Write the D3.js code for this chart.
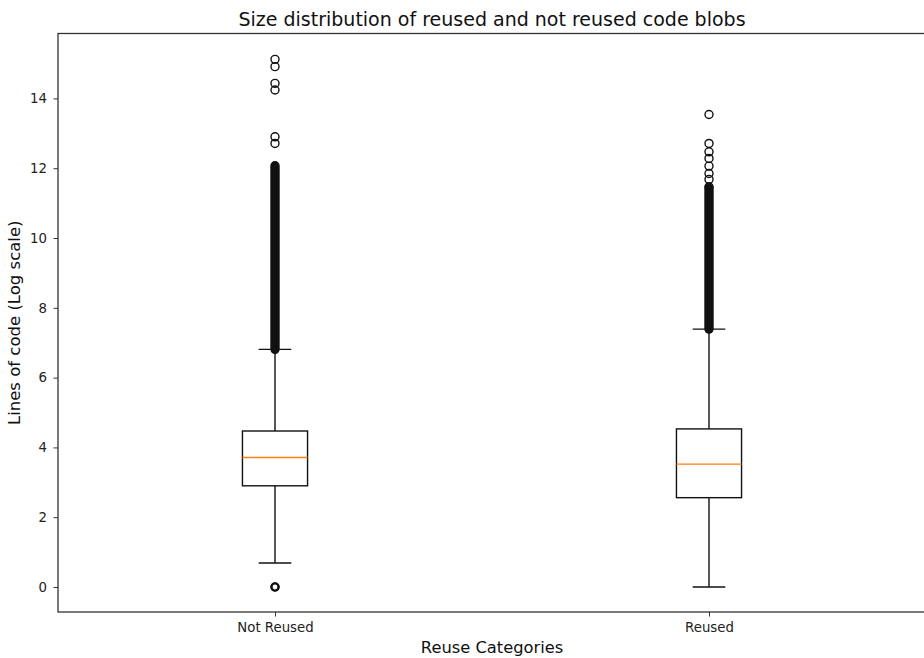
<!DOCTYPE html>
<html>
<head>
<meta charset="utf-8">
<script src="https://cdn.jsdelivr.net/npm/d3@7"></script>
<style>
  html, body { margin: 0; padding: 0; background: #fff; }
  svg { display: block; font-family: "DejaVu Sans", sans-serif; }
</style>
</head>
<body>
<svg id="chart" width="924" height="658"></svg>
<script>
// ---- Data ----
const categories = ["Not Reused", "Reused"];
const q1Values = [2.90, 2.56];
const medianValues = [3.71, 3.52];
const q3Values = [4.47, 4.53];
const whiskerLow = [0.69, 0.0];
const whiskerHigh = [6.81, 7.39];
// individually visible outliers
const outliersNotReused = [0, 12.71, 12.90, 14.24, 14.43, 14.91, 15.12];
const outliersReused = [11.47, 11.68, 11.85, 12.06, 12.28, 12.47, 12.71, 13.54];
// ranges where outlier markers overlap into a solid column
const denseOutlierRanges = [[6.81, 12.07], [7.39, 11.43]];
const yTicks = [0, 2, 4, 6, 8, 10, 12, 14];
const yDomain = [-0.716, 15.86];
const titleText = "Size distribution of reused and not reused code blobs";
const xLabelText = "Reuse Categories";
const yLabelText = "Lines of code (Log scale)";

// ---- Layout ----
(function () {
const svg = d3.select("#chart");
const mLeft = 58, mRight = 926, mTop = 33.5, mBottom = 612;
const x = d3.scaleLinear().domain([0.5, 2.5]).range([mLeft, mRight]);
const y = d3.scaleLinear().domain(yDomain).range([mBottom, mTop]);
const boxW = x(1.15) - x(1);
const capW = boxW / 2;
const ink = "#111";
const lw = 1.4;

const g = svg.append("g");

categories.forEach((c, i) => {
  const cx = x(i + 1);
  const gb = g.append("g");
  gb.append("line").attr("x1", cx).attr("x2", cx)
    .attr("y1", y(q1Values[i])).attr("y2", y(whiskerLow[i]))
    .attr("stroke", ink).attr("stroke-width", lw);
  gb.append("line").attr("x1", cx).attr("x2", cx)
    .attr("y1", y(q3Values[i])).attr("y2", y(whiskerHigh[i]))
    .attr("stroke", ink).attr("stroke-width", lw);
  [whiskerLow[i], whiskerHigh[i]].forEach(v => {
    gb.append("line").attr("x1", cx - capW / 2).attr("x2", cx + capW / 2)
      .attr("y1", y(v)).attr("y2", y(v))
      .attr("stroke", ink).attr("stroke-width", lw);
  });
  gb.append("rect")
    .attr("x", cx - boxW / 2).attr("width", boxW)
    .attr("y", y(q3Values[i])).attr("height", y(q1Values[i]) - y(q3Values[i]))
    .attr("fill", "none").attr("stroke", ink).attr("stroke-width", lw);
  gb.append("line").attr("x1", cx - boxW / 2).attr("x2", cx + boxW / 2)
    .attr("y1", y(medianValues[i])).attr("y2", y(medianValues[i]))
    .attr("stroke", "#ff7f0e").attr("stroke-width", lw);
  const r = denseOutlierRanges[i];
  gb.append("rect")
    .attr("x", cx - 4).attr("width", 8)
    .attr("y", y(r[1]) - 4).attr("height", y(r[0]) - y(r[1]) + 8)
    .attr("rx", 4).attr("ry", 4)
    .attr("fill", ink).attr("stroke", ink).attr("stroke-width", lw);
  const outs = i === 0 ? outliersNotReused : outliersReused;
  gb.selectAll("circle").data(outs).join("circle")
    .attr("cx", cx).attr("cy", d => y(d)).attr("r", 4)
    .attr("fill", "none").attr("stroke", ink).attr("stroke-width", lw);
});

g.append("circle").attr("cx", x(1)).attr("cy", y(outliersNotReused[0])).attr("r", 3.5)
  .attr("fill", "none").attr("stroke", ink).attr("stroke-width", 2.2);

const yAxis = d3.axisLeft(y).tickValues(yTicks).tickSize(4.5).tickPadding(6.5).tickFormat(d3.format("d"));
const ya = svg.append("g").attr("transform", `translate(${mLeft},0)`).call(yAxis);
const xAxis = d3.axisBottom(x).tickValues([1, 2]).tickSize(4.5).tickPadding(6)
  .tickFormat(d => categories[d - 1]);
const xa = svg.append("g").attr("transform", `translate(0,${mBottom})`).call(xAxis);
[ya, xa].forEach(a => {
  a.select(".domain").remove();
  a.selectAll(".tick line").attr("stroke", "#333").attr("stroke-width", 1);
  a.selectAll(".tick text").attr("fill", "#222").style("font-size", "13.3px")
    .style("font-family", "'DejaVu Sans', sans-serif");
});

svg.append("rect").attr("x", mLeft).attr("y", mTop)
  .attr("width", mRight - mLeft).attr("height", mBottom - mTop)
  .attr("fill", "none").attr("stroke", "#333").attr("stroke-width", 1.3);

svg.append("text").attr("x", (mLeft + mRight) / 2).attr("y", 26)
  .attr("text-anchor", "middle").style("font-size", "19px").attr("fill", "#111")
  .text(titleText);
svg.append("text").attr("x", (mLeft + mRight) / 2).attr("y", 653)
  .attr("text-anchor", "middle").style("font-size", "16.3px").attr("fill", "#111")
  .text(xLabelText);
svg.append("text").attr("transform", `translate(20,${(mTop + mBottom) / 2}) rotate(-90)`)
  .attr("text-anchor", "middle").style("font-size", "16.5px").attr("fill", "#111")
  .text(yLabelText);
})();
</script>
</body>
</html>
